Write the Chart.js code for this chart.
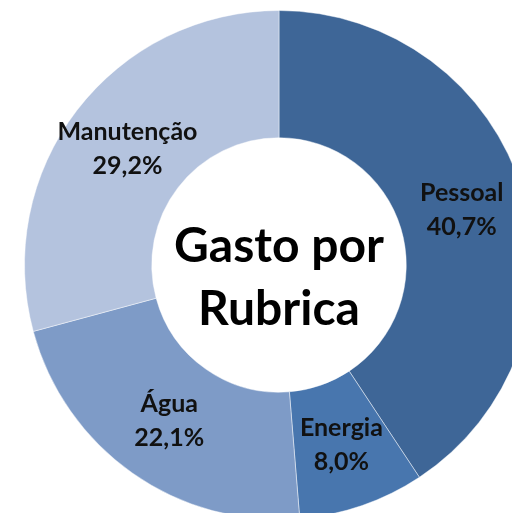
<!DOCTYPE html>
<html>
<head>
<meta charset="utf-8">
<script src="https://cdn.jsdelivr.net/npm/chart.js@4"></script>
<style>
  html, body { margin: 0; padding: 0; background: #ffffff; overflow: hidden; width: 512px; height: 513px; }
  #wrap { position: absolute; left: 0; top: 0; width: 558px; height: 530px; }
</style>
</head>
<body>
<div id="wrap"><canvas id="c" width="558" height="530"></canvas></div>
<script>
const categories = ["Pessoal", "Energia", "Água", "Manutenção"];
const shares = [40.7, 8.0, 22.1, 29.2];
const sliceColors = ["#3e6697", "#4876ae", "#7e9bc7", "#b4c3de"];
const centerTitle = ["Gasto por", "Rubrica"];

const fontFamily = "Lato, 'Open Sans', 'DejaVu Sans', sans-serif";

const labelPlugin = {
  id: 'sliceLabels',
  afterDatasetsDraw(chart) {
    const ctx = chart.ctx;
    const meta = chart.getDatasetMeta(0);
    ctx.save();
    ctx.fillStyle = '#111111';
    ctx.textAlign = 'center';
    ctx.textBaseline = 'middle';
    ctx.font = "bold 25px " + fontFamily;
    for (let i = 0; i < meta.data.length; i++) {
      const arc = meta.data[i];
      const p = arc.getProps(['x', 'y', 'startAngle', 'endAngle', 'innerRadius', 'outerRadius'], true);
      const mid = (p.startAngle + p.endAngle) / 2;
      const r = (p.innerRadius + p.outerRadius) / 2;
      const cx = p.x + Math.cos(mid) * r;
      const cy = p.y + Math.sin(mid) * r;
      const pct = shares[i].toFixed(1).replace('.', ',') + '%';
      ctx.fillText(categories[i], cx, cy - 17);
      ctx.fillText(pct, cx, cy + 17);
    }
    // center title
    const a0 = meta.data[0];
    ctx.font = "bold 48px " + fontFamily;
    ctx.fillStyle = '#000000';
    ctx.fillText(centerTitle[0], a0.x, a0.y - 18);
    ctx.fillText(centerTitle[1], a0.x, a0.y + 45);
    ctx.restore();
  }
};

new Chart(document.getElementById('c'), {
  type: 'doughnut',
  data: {
    labels: categories,
    datasets: [{
      data: shares,
      backgroundColor: sliceColors,
      borderColor: 'rgba(255,255,255,0.45)',
      borderWidth: 1
    }]
  },
  options: {
    responsive: false,
    animation: false,
    cutout: '50%',
    layout: { padding: 10 },
    plugins: {
      legend: { display: false },
      tooltip: { enabled: false },
      title: { display: false }
    }
  },
  plugins: [labelPlugin]
});
</script>
</body>
</html>
